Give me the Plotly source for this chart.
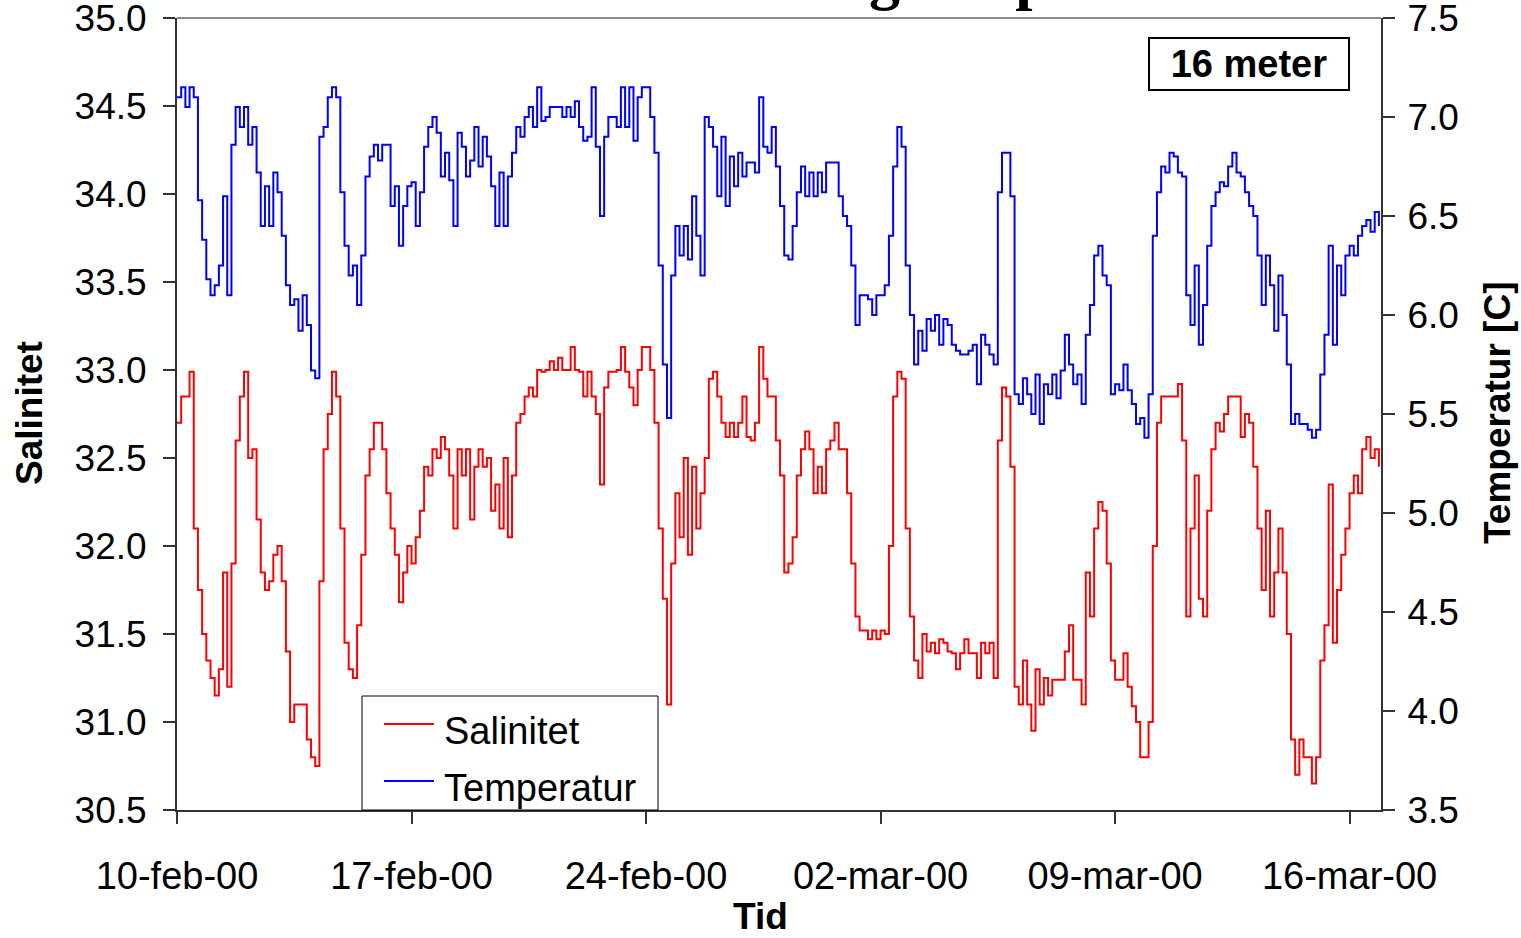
import pandas as pd
import plotly.graph_objects as go

# ---------------- data (3-hourly readings from 10-feb-2000) ----------------
start_time = "2000-02-10 00:00"
sample_step = "3h"

salinitet = [
    32.7, 32.85, 32.85, 32.99, 32.1, 31.75, 31.5, 31.35,
    31.25, 31.15, 31.3, 31.85, 31.2, 31.9, 32.6, 32.85,
    32.99, 32.5, 32.55, 32.15, 31.85, 31.75, 31.8, 31.95,
    32.0, 31.8, 31.4, 31.0, 31.1, 31.1, 31.1, 30.9,
    30.8, 30.75, 31.8, 32.55, 32.75, 32.99, 32.85, 32.1,
    31.45, 31.3, 31.25, 31.55, 31.95, 32.4, 32.55, 32.7,
    32.7, 32.55, 32.3, 32.1, 31.95, 31.68, 31.85, 32.0,
    31.9, 32.05, 32.2, 32.45, 32.4, 32.55, 32.5, 32.62,
    32.55, 32.4, 32.1, 32.55, 32.4, 32.55, 32.15, 32.45,
    32.55, 32.45, 32.5, 32.2, 32.35, 32.1, 32.5, 32.05,
    32.4, 32.7, 32.75, 32.85, 32.9, 32.85, 33.0, 32.99,
    33.0, 33.05, 33.0, 33.07, 33.0, 33.0, 33.13, 33.0,
    32.99, 32.85, 32.99, 32.85, 32.75, 32.35, 32.9, 32.99,
    32.99, 33.0, 33.13, 32.99, 32.9, 32.8, 33.0, 33.13,
    33.13, 33.0, 32.7, 32.1, 31.7, 31.1, 31.9, 32.3,
    32.05, 32.5, 31.95, 32.45, 32.1, 32.3, 32.5, 32.95,
    32.99, 32.85, 32.7, 32.62, 32.7, 32.62, 32.7, 32.85,
    32.62, 32.6, 32.7, 33.13, 32.95, 32.85, 32.85, 32.6,
    32.4, 31.85, 31.9, 32.05, 32.4, 32.55, 32.65, 32.55,
    32.3, 32.45, 32.3, 32.55, 32.6, 32.7, 32.55, 32.55,
    32.3, 31.9, 31.6, 31.52, 31.52, 31.47, 31.52, 31.47,
    31.52, 31.5, 32.0, 32.85, 32.99, 32.95, 32.1, 31.6,
    31.35, 31.25, 31.5, 31.4, 31.45, 31.39, 31.47, 31.45,
    31.4, 31.39, 31.3, 31.39, 31.47, 31.39, 31.39, 31.25,
    31.45, 31.39, 31.45, 31.25, 32.6, 32.9, 32.85, 32.45,
    31.2, 31.1, 31.35, 31.1, 30.95, 31.3, 31.1, 31.25,
    31.15, 31.24, 31.24, 31.24, 31.4, 31.55, 31.24, 31.24,
    31.1, 31.85, 31.6, 32.1, 32.25, 32.2, 31.9, 31.35,
    31.24, 31.24, 31.39, 31.2, 31.09, 31.0, 30.8, 30.8,
    31.0, 32.0, 32.7, 32.85, 32.85, 32.85, 32.85, 32.92,
    32.6, 31.6, 32.1, 32.4, 31.7, 31.6, 32.2, 32.55,
    32.7, 32.65, 32.75, 32.85, 32.85, 32.85, 32.62, 32.75,
    32.7, 32.45, 32.1, 31.75, 32.2, 31.6, 31.85, 32.1,
    31.85, 31.5, 30.9, 30.7, 30.9, 30.8, 30.8, 30.65,
    30.8, 31.35, 31.55, 32.35, 31.45, 31.75, 31.95, 32.1,
    32.3, 32.4, 32.3, 32.55, 32.62, 32.5, 32.55, 32.45,
]

temperatur = [
    7.1, 7.15, 7.05, 7.15, 7.1, 6.58, 6.38, 6.18,
    6.1, 6.15, 6.25, 6.6, 6.1, 6.86, 7.05, 6.95,
    7.05, 6.86, 6.95, 6.72, 6.45, 6.65, 6.45, 6.72,
    6.62, 6.4, 6.15, 6.05, 6.08, 5.92, 6.1, 5.95,
    5.72, 5.68, 6.9, 6.95, 7.1, 7.15, 7.1, 6.62,
    6.35, 6.2, 6.25, 6.05, 6.3, 6.7, 6.8, 6.86,
    6.78, 6.86, 6.86, 6.55, 6.65, 6.35, 6.55, 6.65,
    6.67, 6.45, 6.62, 6.85, 6.95, 7.0, 6.92, 6.7,
    6.82, 6.68, 6.45, 6.92, 6.85, 6.7, 6.78, 6.95,
    6.75, 6.9, 6.8, 6.65, 6.45, 6.72, 6.45, 6.7,
    6.82, 6.95, 6.9, 7.0, 7.05, 6.95, 7.15, 6.98,
    7.0, 7.05, 7.05, 7.05, 7.0, 7.05, 7.0, 7.08,
    6.95, 6.88, 6.9, 7.15, 6.85, 6.5, 6.9, 7.0,
    7.0, 6.95, 7.15, 6.95, 7.15, 6.88, 7.1, 7.15,
    7.15, 7.0, 6.82, 6.25, 5.75, 5.48, 6.2, 6.45,
    6.3, 6.45, 6.28, 6.6, 6.4, 6.2, 7.0, 6.95,
    6.85, 6.6, 6.9, 6.55, 6.8, 6.65, 6.82, 6.7,
    6.77, 6.77, 6.72, 7.1, 6.85, 6.82, 6.95, 6.75,
    6.55, 6.3, 6.28, 6.45, 6.62, 6.75, 6.6, 6.72,
    6.6, 6.72, 6.62, 6.77, 6.77, 6.77, 6.6, 6.5,
    6.45, 6.25, 5.95, 6.1, 6.1, 6.08, 6.0, 6.1,
    6.1, 6.15, 6.4, 6.75, 6.95, 6.85, 6.25, 6.0,
    5.75, 5.92, 5.82, 5.98, 5.92, 6.0, 5.85, 5.98,
    5.95, 5.85, 5.82, 5.8, 5.8, 5.82, 5.85, 5.65,
    5.9, 5.85, 5.8, 5.75, 6.62, 6.82, 6.82, 6.6,
    5.6, 5.55, 5.68, 5.6, 5.5, 5.7, 5.45, 5.65,
    5.6, 5.7, 5.58, 5.72, 5.9, 5.75, 5.65, 5.7,
    5.55, 5.9, 6.05, 6.3, 6.35, 6.2, 6.15, 5.6,
    5.65, 5.62, 5.75, 5.62, 5.55, 5.45, 5.48, 5.38,
    5.6, 6.4, 6.62, 6.75, 6.72, 6.82, 6.8, 6.72,
    6.7, 6.1, 5.95, 6.25, 5.85, 6.05, 6.35, 6.55,
    6.62, 6.67, 6.65, 6.75, 6.82, 6.72, 6.7, 6.62,
    6.55, 6.5, 6.3, 6.05, 6.3, 6.15, 5.92, 6.2,
    6.0, 5.75, 5.45, 5.5, 5.45, 5.45, 5.42, 5.38,
    5.42, 5.7, 5.9, 6.35, 5.85, 6.25, 6.1, 6.3,
    6.35, 6.3, 6.4, 6.45, 6.48, 6.42, 6.52, 6.45,
]

tick_dates = ["2000-02-10", "2000-02-17", "2000-02-24", "2000-03-02", "2000-03-09", "2000-03-16"]
tick_labels = ["10-feb-00", "17-feb-00", "24-feb-00", "02-mar-00", "09-mar-00", "16-mar-00"]
sal_ticks = [30.5, 31.0, 31.5, 32.0, 32.5, 33.0, 33.5, 34.0, 34.5, 35.0]
temp_ticks = [3.5, 4.0, 4.5, 5.0, 5.5, 6.0, 6.5, 7.0, 7.5]
x_range = ["2000-02-10 00:00", "2000-03-16 22:30"]
sal_range = [30.5, 35.0]
temp_range = [3.5, 7.5]
series_names = ["Salinitet", "Temperatur"]
series_colors = ["#FF0000", "#0000FF"]

times = pd.date_range(start_time, periods=len(salinitet), freq=sample_step)

# ---------------- figure ----------------
FONT = "Liberation Sans, Arial, sans-serif"
AX = "#333333"
W, H = 1521, 938
L, R, T, B = 177, 140, 18, 128
PW, PH = W - L - R, H - T - B


def px_x(px):
    return (px - L) / PW


def px_y(py):
    return (H - B - py) / PH


fig = go.Figure()
fig.add_trace(go.Scatter(x=times, y=salinitet, name=series_names[0], mode="lines",
                         line=dict(color=series_colors[0], width=2, shape="hv"),
                         yaxis="y", showlegend=False))
fig.add_trace(go.Scatter(x=times, y=temperatur, name=series_names[1], mode="lines",
                         line=dict(color=series_colors[1], width=2, shape="hv"),
                         yaxis="y2", showlegend=False))

tickfont = dict(family=FONT, size=37, color="black")
xtickfont = dict(family=FONT, size=38, color="black")

fig.update_layout(
    width=W, height=H,
    margin=dict(l=L, r=R, t=T, b=B, autoexpand=False),
    paper_bgcolor="white", plot_bgcolor="white",
    xaxis=dict(type="date", range=x_range, tickvals=tick_dates, ticktext=tick_labels,
               ticks="outside", ticklen=12, tickwidth=1.5, tickcolor=AX,
               showline=True, linecolor=AX, linewidth=2, showgrid=False, zeroline=False,
               tickfont=xtickfont, ticklabelstandoff=19, ticklabeloverflow="allow",
               automargin=False),
    xaxis2=dict(type="date", range=x_range, tickvals=tick_dates, overlaying="x", anchor="y",
                side="bottom", ticks="inside", ticklen=12, tickwidth=1.5, tickcolor=AX,
                showticklabels=False, showline=False, showgrid=False, zeroline=False,
                automargin=False),
    yaxis=dict(range=sal_range, tickvals=sal_ticks, tickformat=".1f",
               ticks="outside", ticklen=12, tickwidth=1.5, tickcolor=AX,
               showline=True, linecolor=AX, linewidth=2, showgrid=False, zeroline=False,
               tickfont=tickfont, ticklabelstandoff=9, ticklabeloverflow="allow",
               automargin=False),
    yaxis2=dict(range=temp_range, tickvals=temp_ticks, tickformat=".1f", overlaying="y",
                side="right", anchor="x",
                ticks="outside", ticklen=12, tickwidth=1.5, tickcolor=AX,
                showline=True, linecolor=AX, linewidth=2, showgrid=False, zeroline=False,
                tickfont=tickfont, ticklabelstandoff=5, ticklabeloverflow="allow",
                automargin=False),
    yaxis3=dict(range=sal_range, tickvals=sal_ticks, overlaying="y", side="left", anchor="x",
                ticks="inside", ticklen=12, tickwidth=1.5, tickcolor=AX,
                showticklabels=False, showline=False, showgrid=False, zeroline=False,
                automargin=False),
    yaxis4=dict(range=temp_range, tickvals=temp_ticks, overlaying="y", side="right", anchor="x",
                ticks="inside", ticklen=12, tickwidth=1.5, tickcolor=AX,
                showticklabels=False, showline=False, showgrid=False, zeroline=False,
                automargin=False),
    showlegend=False,
)

# top border of plot area (gray)
fig.add_shape(type="line", xref="paper", yref="paper", x0=0, x1=1, y0=1, y1=1,
              line=dict(color="#8c8c8c", width=2))

# legend box drawn from the series names / colours
fig.add_shape(type="rect", xref="paper", yref="paper",
              x0=px_x(362), x1=px_x(658), y0=px_y(810), y1=px_y(696),
              line=dict(color="black", width=1), fillcolor="white", layer="above")
for i, (nm, col) in enumerate(zip(series_names, series_colors)):
    yy = 724 + 57 * i
    fig.add_shape(type="line", xref="paper", yref="paper",
                  x0=px_x(384), x1=px_x(434), y0=px_y(yy), y1=px_y(yy),
                  line=dict(color=col, width=2), layer="above")
    fig.add_annotation(text=nm, xref="paper", yref="paper", x=px_x(442), y=px_y(yy + 7),
                       xanchor="left", yanchor="middle", showarrow=False,
                       font=dict(family=FONT, size=38, color="black"))

# axis titles
fig.add_annotation(text="<b>Salinitet</b>", xref="paper", yref="paper",
                   x=px_x(29), y=px_y(413), xanchor="center", yanchor="middle",
                   textangle=-90, showarrow=False,
                   font=dict(family=FONT, size=37, color="black"))
fig.add_annotation(text="<b>Temperatur [C]</b>", xref="paper", yref="paper",
                   x=px_x(1497), y=px_y(413), xanchor="center", yanchor="middle",
                   textangle=-90, showarrow=False,
                   font=dict(family=FONT, size=37, color="black"))
fig.add_annotation(text="<b>Tid</b>", xref="paper", yref="paper",
                   x=px_x(760), y=px_y(916), xanchor="center", yanchor="middle",
                   showarrow=False,
                   font=dict(family=FONT, size=37, color="black"))

# depth label box
fig.add_annotation(text="<b>16 meter</b>", xref="paper", yref="paper",
                   x=px_x(1249), y=px_y(64), xanchor="center", yanchor="middle",
                   showarrow=False,
                   font=dict(family=FONT, size=38, color="black"),
                   bordercolor="black", borderwidth=2, borderpad=0, bgcolor="white",
                   width=198, height=50)

# title (mostly cut off at the top of the page, as in the original)
fig.add_annotation(text="<b>Salinitet og temperatur</b>", xref="paper", yref="paper",
                   x=px_x(910), y=1, xanchor="center", yanchor="bottom", yshift=5,
                   showarrow=False,
                   font=dict(family="Liberation Serif, Times New Roman, serif", size=62, color="black"))

fig.write_html("out.html")
